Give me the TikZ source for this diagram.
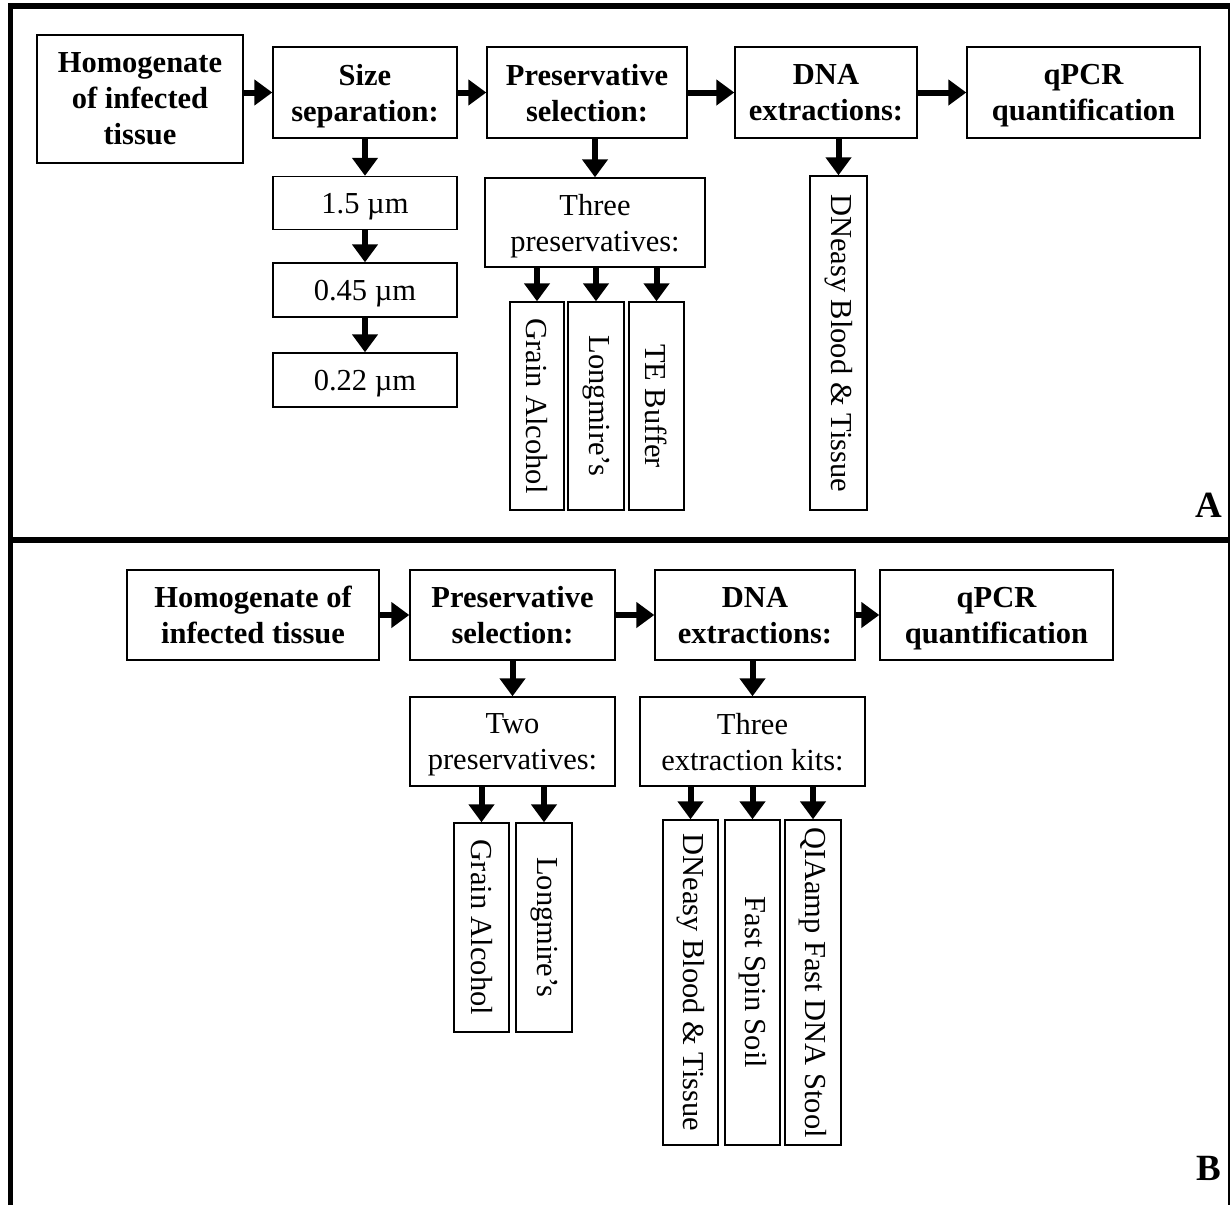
\documentclass[tikz,border=0pt]{standalone}
\usepackage{fontspec}
\setmainfont{Liberation Serif}
\usepackage{graphicx}
\usetikzlibrary{arrows.meta}

\begin{document}
\begin{tikzpicture}[x=1pt, y=-1pt, line join=miter,
    font=\fontsize{30.5}{36}\selectfont,
    box/.style={draw, line width=1.4pt, align=center, inner sep=0pt, text depth=0pt},
    hbox/.style={box, font=\fontsize{30.5}{36}\selectfont\bfseries},
    vbox/.style={draw, line width=1.4pt, inner sep=0pt},
    arr/.style={line width=6pt, -{Triangle[width=25pt,length=18pt]}}]
	\useasboundingbox (0,0) rectangle (1231,1205);
	% frame
	\draw[line width=5pt] (10.5,1205) -- (10.5,3);
	\draw[line width=6pt] (8,6) -- (1229,6);
	\draw[line width=2pt] (1229,3) -- (1229,1205);
	\draw[line width=6pt] (8,540) -- (1229,540);
	\node[font=\fontsize{37}{40}\selectfont\bfseries] (labA) at (1209,505) {A};
	\node[font=\fontsize{37}{40}\selectfont\bfseries] (labB) at (1209,1168) {B};
	% panel A
	\node[hbox, minimum width=206pt, minimum height=128pt] (hA) at (140,99) {Homogenate\\of infected\\tissue};
	\node[hbox, minimum width=184pt, minimum height=91pt] (sA) at (365,92.5) {Size\\separation:};
	\node[hbox, minimum width=200pt, minimum height=91pt] (pA) at (587,92.5) {Preservative\\selection:};
	\node[hbox, minimum width=182pt, minimum height=91pt] (dA) at (826,92.5) {DNA\\extractions:};
	\node[hbox, minimum width=233pt, minimum height=91pt] (qA) at (1083.5,92.5) {qPCR\\quantification};
	\node[box, minimum width=184pt, minimum height=53pt] (s1) at (365,203) {1.5 µm};
	\node[box, minimum width=184pt, minimum height=54pt] (s2) at (365,290) {0.45 µm};
	\node[box, minimum width=184pt, minimum height=54pt] (s3) at (365,380) {0.22 µm};
	\node[box, minimum width=220pt, minimum height=89pt] (tA) at (595,222.5) {Three\\preservatives:};
	\node[vbox, minimum width=54pt, minimum height=208pt] (gA) at (537,406) {\rotatebox{-90}{Grain Alcohol}};
	\node[vbox, minimum width=56pt, minimum height=208pt] (lA) at (596,406) {\rotatebox{-90}{Longmire’s}};
	\node[vbox, minimum width=55pt, minimum height=208pt] (eA) at (656.5,406) {\rotatebox{-90}{TE Buffer}};
	\node[vbox, minimum width=57pt, minimum height=334pt] (kA) at (838.5,343) {\rotatebox{-90}{DNeasy Blood \& Tissue}};
	\draw[arr] (hA.east |- sA.west) -- (sA.west);
	\draw[arr] (sA.east |- pA.west) -- (pA.west);
	\draw[arr] (pA.east |- dA.west) -- (dA.west);
	\draw[arr] (dA.east |- qA.west) -- (qA.west);
	\draw[arr] (sA.south) -- (s1.north);
	\draw[arr] (s1.south) -- (s2.north);
	\draw[arr] (s2.south) -- (s3.north);
	\draw[arr] (tA.north |- pA.south) -- (tA.north);
	\draw[arr] (gA.north |- tA.south) -- (gA.north);
	\draw[arr] (lA.north |- tA.south) -- (lA.north);
	\draw[arr] (eA.north |- tA.south) -- (eA.north);
	\draw[arr] (kA.north |- dA.south) -- (kA.north);
	% panel B
	\node[hbox, minimum width=252pt, minimum height=90pt] (hB) at (253,615) {Homogenate of\\infected tissue};
	\node[hbox, minimum width=205pt, minimum height=90pt] (pB) at (512.5,615) {Preservative\\selection:};
	\node[hbox, minimum width=200pt, minimum height=90pt] (dB) at (755,615) {DNA\\extractions:};
	\node[hbox, minimum width=233pt, minimum height=90pt] (qB) at (996.5,615) {qPCR\\quantification};
	\node[box, minimum width=205pt, minimum height=89pt] (tB) at (512.5,741.5) {Two\\preservatives:};
	\node[box, minimum width=225pt, minimum height=89pt] (kB) at (752.5,741.5) {Three\\extraction kits:};
	\node[vbox, minimum width=55pt, minimum height=209pt] (gB) at (481.5,927.5) {\rotatebox{-90}{Grain Alcohol}};
	\node[vbox, minimum width=56pt, minimum height=209pt] (lB) at (544,927.5) {\rotatebox{-90}{Longmire’s}};
	\node[vbox, minimum width=55pt, minimum height=325pt] (k1) at (690.5,982.5) {\rotatebox{-90}{DNeasy Blood \& Tissue}};
	\node[vbox, minimum width=55pt, minimum height=325pt] (k2) at (752.5,982.5) {\rotatebox{-90}{Fast Spin Soil}};
	\node[vbox, minimum width=56pt, minimum height=325pt] (k3) at (813,982.5) {\rotatebox{-90}{QIAamp Fast DNA Stool}};
	\draw[arr] (hB.east) -- (pB.west);
	\draw[arr] (pB.east) -- (dB.west);
	\draw[arr] (dB.east) -- (qB.west);
	\draw[arr] (pB.south) -- (tB.north);
	\draw[arr] (kB.north |- dB.south) -- (kB.north);
	\draw[arr] (gB.north |- tB.south) -- (gB.north);
	\draw[arr] (lB.north |- tB.south) -- (lB.north);
	\draw[arr] (k1.north |- kB.south) -- (k1.north);
	\draw[arr] (k2.north |- kB.south) -- (k2.north);
	\draw[arr] (k3.north |- kB.south) -- (k3.north);
\end{tikzpicture}
\end{document}
